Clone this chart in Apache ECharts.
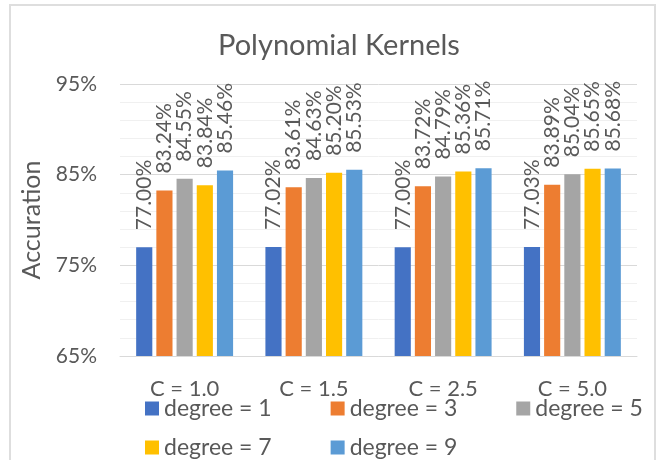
<!DOCTYPE html>
<html>
<head>
<meta charset="utf-8">
<script src="https://cdn.jsdelivr.net/npm/echarts@6/dist/echarts.min.js"></script>
<style>
  html, body { margin: 0; padding: 0; background: #fff; }
  #chart { width: 661px; height: 460px; }
</style>
</head>
<body>
<div id="chart"></div>
<script>
// categories and series values (percent)
const categories = ["C = 1.0", "C = 1.5", "C = 2.5", "C = 5.0"];
const seriesNames = ["degree = 1", "degree = 3", "degree = 5", "degree = 7", "degree = 9"];
const degree1 = [77.0, 77.02, 77.0, 77.03];
const degree3 = [83.24, 83.61, 83.72, 83.89];
const degree5 = [84.55, 84.63, 84.79, 85.04];
const degree7 = [83.84, 85.2, 85.36, 85.65];
const degree9 = [85.46, 85.53, 85.71, 85.68];
const colors = ["#4472C4", "#ED7D31", "#A5A5A5", "#FFC000", "#5B9BD5"];

const font = "Lato, 'Liberation Sans', sans-serif";
const textColor = "#595959";

const chart = echarts.init(document.getElementById("chart"));

const allData = [degree1, degree3, degree5, degree7, degree9];
const series = allData.map((d, i) => ({
  name: seriesNames[i],
  type: "bar",
  data: d,
  barGap: "25%",
  barCategoryGap: "25%",
  itemStyle: { color: colors[i] },
  label: {
    show: true,
    position: "top",
    rotate: 90,
    align: "left",
    verticalAlign: "middle",
    distance: 17,
    color: textColor,
    fontFamily: font,
    fontSize: 21,
    formatter: (p) => p.value.toFixed(2) + "%",
  },
}));

// legend rows: the reference wraps after three items
const legendCommon = {
  left: 140,
  itemWidth: 14,
  itemHeight: 14,
  itemGap: 59,
  icon: "rect",
  textStyle: { color: textColor, fontFamily: font, fontSize: 23 },
};

chart.setOption({
  animation: false,
  color: colors,
  title: {
    text: "Polynomial Kernels",
    left: 213,
    top: 26,
    textStyle: { color: textColor, fontFamily: font, fontSize: 29, fontWeight: "normal" },
  },
  graphic: [
    {
      type: "rect",
      shape: { x: 10, y: 5, width: 645, height: 480 },
      style: { fill: "none", stroke: "#DEDEDE", lineWidth: 2 },
      silent: true,
    },
  ],
  legend: [
    Object.assign({ top: 392, data: seriesNames.slice(0, 3) }, legendCommon),
    Object.assign({ top: 431, data: seriesNames.slice(3) }, legendCommon),
  ],
  grid: { left: 120, right: 24, top: 84, bottom: 104 },
  xAxis: {
    type: "category",
    data: categories,
    axisLine: { lineStyle: { color: "#D9D9D9", width: 1 } },
    axisTick: { show: false },
    axisLabel: { color: textColor, fontFamily: font, fontSize: 22, margin: 22 },
  },
  yAxis: {
    type: "value",
    min: 65,
    max: 95,
    interval: 10,
    name: "Accuration",
    nameLocation: "middle",
    nameGap: 74,
    nameTextStyle: { color: textColor, fontFamily: font, fontSize: 25 },
    axisLine: { show: false },
    axisTick: { show: false },
    axisLabel: { color: textColor, fontFamily: font, fontSize: 21, margin: 23, formatter: "{value}%" },
    splitLine: { lineStyle: { color: "#D9D9D9", width: 1 } },
    minorTick: { show: false, splitNumber: 5 },
    minorSplitLine: { show: true, lineStyle: { color: "#F0F0F0", width: 1 } },
  },
  series: series,
});
</script>
</body>
</html>
